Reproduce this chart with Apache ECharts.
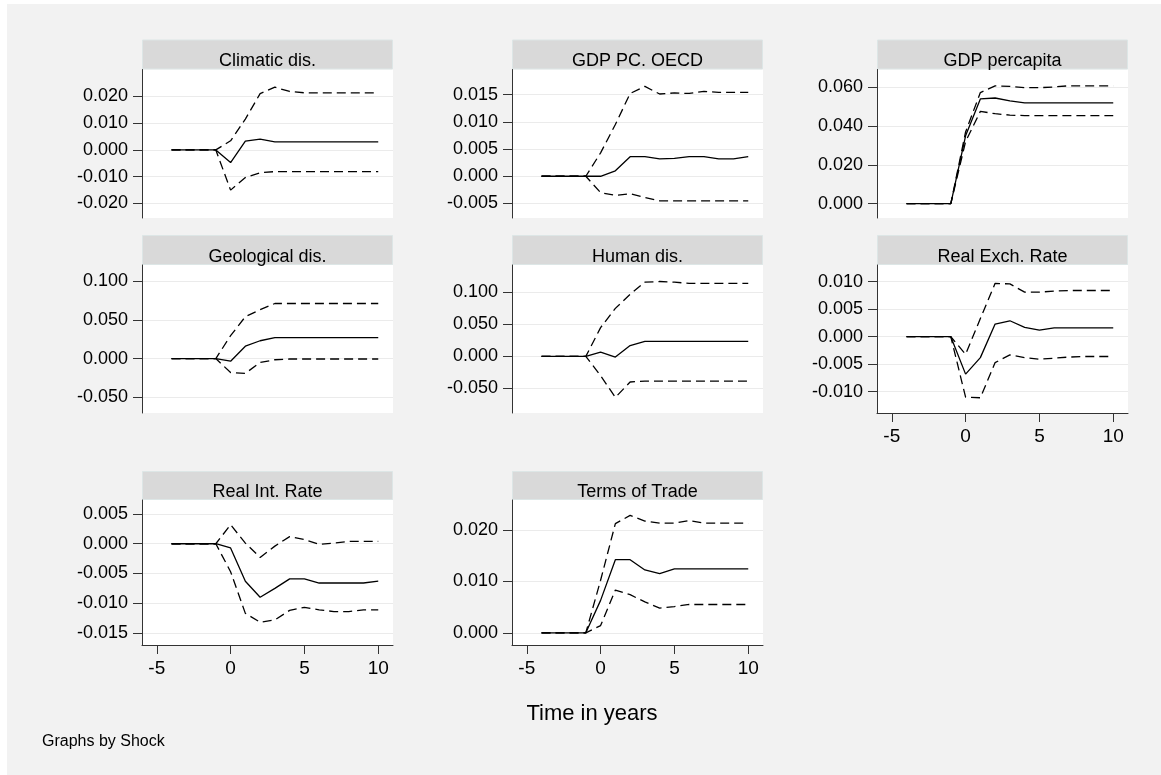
<!DOCTYPE html>
<html><head><meta charset="utf-8">
<script src="https://cdn.jsdelivr.net/npm/echarts@6/dist/echarts.min.js"></script>
<style>html,body{margin:0;padding:0;background:#fff}#c{width:1161px;height:775px}</style>
</head><body><div id="c"></div>
<script>
// ---------- data ----------
const years = [-4,-3,-2,-1,0,1,2,3,4,5,6,7,8,9,10];
const xTicks = [-5,0,5,10];
const panelTitles = ['Climatic dis.','GDP PC. OECD','GDP percapita','Geological dis.','Human dis.','Real Exch. Rate','Real Int. Rate','Terms of Trade'];

const climIrf   = [0,0,0,0,-0.0047,0.0033,0.0040,0.0030,0.0030,0.0030,0.0030,0.0030,0.0030,0.0030,0.0030];
const climUpper = [0,0,0,0,0.0034,0.0115,0.0210,0.0234,0.0218,0.0213,0.0213,0.0213,0.0213,0.0213,0.0213];
const climLower = [0,0,0,0,-0.0150,-0.0103,-0.0085,-0.0081,-0.0081,-0.0081,-0.0081,-0.0081,-0.0081,-0.0081,-0.0081];
const climTicks = [-0.02,-0.01,0,0.01,0.02];

const oecdIrf   = [0,0,0,0,0,0.0010,0.0036,0.0036,0.0032,0.0033,0.0036,0.0036,0.0032,0.0032,0.0036];
const oecdUpper = [0,0,0,0,0.0043,0.0095,0.0152,0.0165,0.0151,0.0153,0.0152,0.0156,0.0154,0.0154,0.0154];
const oecdLower = [0,0,0,0,-0.0030,-0.0035,-0.0032,-0.0039,-0.0045,-0.0045,-0.0045,-0.0045,-0.0045,-0.0045,-0.0045];
const oecdTicks = [-0.005,0,0.005,0.01,0.015];

const gdpIrf   = [0,0,0,0,0.035,0.054,0.0545,0.053,0.052,0.052,0.052,0.052,0.052,0.052,0.052];
const gdpUpper = [0,0,0,0,0.037,0.0573,0.0608,0.0605,0.0598,0.0598,0.0602,0.0608,0.0608,0.0608,0.0608];
const gdpLower = [0,0,0,0,0.032,0.0476,0.0464,0.0457,0.0454,0.0454,0.0454,0.0454,0.0454,0.0454,0.0454];
const gdpTicks = [0,0.02,0.04,0.06];

const geoIrf   = [0,0,0,0,-0.0034,0.016,0.023,0.027,0.027,0.027,0.027,0.027,0.027,0.027,0.027];
const geoUpper = [0,0,0,0,0.0295,0.054,0.063,0.071,0.071,0.071,0.071,0.071,0.071,0.071,0.071];
const geoLower = [0,0,0,0,-0.018,-0.019,-0.005,-0.0015,-0.0005,-0.0005,-0.0005,-0.0005,-0.0005,-0.0005,-0.0005];
const geoTicks = [-0.05,0,0.05,0.1];

const humIrf   = [0,0,0,0,0.0067,-0.001,0.017,0.0235,0.0235,0.0235,0.0235,0.0235,0.0235,0.0235,0.0235];
const humUpper = [0,0,0,0,0.045,0.075,0.097,0.116,0.117,0.116,0.114,0.114,0.114,0.114,0.114];
const humLower = [0,0,0,0,-0.030,-0.064,-0.040,-0.0385,-0.0385,-0.0385,-0.0385,-0.0385,-0.0385,-0.0385,-0.0385];
const humTicks = [-0.05,0,0.05,0.1];

const rerIrf   = [0,0,0,0,-0.0068,-0.0038,0.0023,0.0029,0.0017,0.0012,0.0016,0.0016,0.0016,0.0016,0.0016];
const rerUpper = [0,0,0,0,-0.0032,0.0033,0.0097,0.0096,0.0081,0.0081,0.0083,0.0084,0.0084,0.0084,0.0084];
const rerLower = [0,0,0,0,-0.0110,-0.0111,-0.0047,-0.0033,-0.0038,-0.0041,-0.0039,-0.0037,-0.0036,-0.0036,-0.0036];
const rerTicks = [-0.01,-0.005,0,0.005,0.01];

const rirIrf   = [0,0,0,0,-0.0007,-0.0063,-0.0090,-0.0075,-0.0059,-0.0059,-0.0066,-0.0066,-0.0066,-0.0066,-0.0063];
const rirUpper = [0,0,0,0,0.0032,0.0001,-0.0023,-0.0004,0.0012,0.0007,-0.0001,0.0001,0.0004,0.0004,0.0004];
const rirLower = [0,0,0,0,-0.0047,-0.0117,-0.0132,-0.0128,-0.0112,-0.0107,-0.0111,-0.0114,-0.0114,-0.0111,-0.0111];
const rirTicks = [-0.015,-0.01,-0.005,0,0.005];

const totIrf   = [0,0,0,0,0.0063,0.0142,0.0142,0.0122,0.0115,0.0124,0.0124,0.0124,0.0124,0.0124,0.0124];
const totUpper = [0,0,0,0,0.0102,0.0212,0.0228,0.0217,0.0213,0.0213,0.0218,0.0213,0.0213,0.0213,0.0213];
const totLower = [0,0,0,0,0.0014,0.0083,0.0074,0.0060,0.0048,0.0051,0.0055,0.0055,0.0055,0.0055,0.0055];
const totTicks = [0,0.01,0.02];

// ---------- layout ----------
const panels = [
  {irf:climIrf, up:climUpper, lo:climLower, ticks:climTicks, min:-0.0254, max:0.0300},
  {irf:oecdIrf, up:oecdUpper, lo:oecdLower, ticks:oecdTicks, min:-0.00766, max:0.0196},
  {irf:gdpIrf,  up:gdpUpper,  lo:gdpLower,  ticks:gdpTicks,  min:-0.0074, max:0.0692},
  {irf:geoIrf,  up:geoUpper,  lo:geoLower,  ticks:geoTicks,  min:-0.0701, max:0.1206},
  {irf:humIrf,  up:humUpper,  lo:humLower,  ticks:humTicks,  min:-0.0884, max:0.1428},
  {irf:rerIrf,  up:rerUpper,  lo:rerLower,  ticks:rerTicks,  min:-0.01387, max:0.01304},
  {irf:rirIrf,  up:rirUpper,  lo:rirLower,  ticks:rirTicks,  min:-0.01702, max:0.00735},
  {irf:totIrf,  up:totUpper,  lo:totLower,  ticks:totTicks,  min:-0.00237, max:0.02579}
];
const colLeft = [142, 512, 877];
const colW = 251;
const rows = [{hTop:39.5, top:69.5, h:148.5},{hTop:235, top:265, h:148},{hTop:471, top:500, h:145}];
const xAxisShown = [false,false,false,false,false,true,true,true];
const FONT = '"Liberation Sans", Arial, sans-serif';

const grids = [], xAxes = [], yAxes = [], series = [], graphics = [];
graphics.push({type:'rect', shape:{x:7, y:4, width:1154, height:771}, style:{fill:'#f2f2f2'}, z:-10, silent:true});

panels.forEach((p, i) => {
  const r = rows[Math.floor(i/3)], left = colLeft[i%3];
  grids.push({left:left, top:r.top, width:colW, height:r.h, show:true, backgroundColor:'#ffffff', borderWidth:0, containLabel:false});
  graphics.push({type:'rect', shape:{x:left+0.5, y:r.hTop+0.5, width:colW-1, height:r.top-r.hTop-1},
    style:{fill:'#d9d9d9', stroke:'#dde6e6', lineWidth:1}, silent:true});
  graphics.push({type:'text', x:left+colW/2, y:r.top-8,
    style:{text:panelTitles[i], fill:'#000', font:'18px '+FONT, align:'center', verticalAlign:'middle'}, silent:true});
  const showX = xAxisShown[i];
  xAxes.push({type:'value', gridIndex:i, min:-6, max:11, show:showX,
    axisLine:{show:true, onZero:false, lineStyle:{color:'#333', width:1}},
    axisTick:{show:true, customValues:xTicks, length:9, lineStyle:{color:'#333'}},
    axisLabel:{show:true, customValues:xTicks, fontSize:19, fontFamily:FONT, color:'#000', margin:14},
    splitLine:{show:false}});
  yAxes.push({type:'value', gridIndex:i, min:p.min, max:p.max,
    axisLine:{show:true, onZero:false, lineStyle:{color:'#333', width:1}},
    axisTick:{show:true, customValues:p.ticks, length:9, lineStyle:{color:'#333'}},
    axisLabel:{show:true, customValues:p.ticks, fontSize:18, fontFamily:FONT, color:'#000', margin:14,
      formatter:(v)=> (Math.abs(v)<1e-12?0:v).toFixed(3)},
    splitLine:{show:true, lineStyle:{color:'#ebebeb', width:1}}});
  const mk = (arr, dashed) => ({type:'line', xAxisIndex:i, yAxisIndex:i, symbol:'none', silent:true,
    data: years.map((x,k)=>[x, arr[k]]),
    lineStyle:{color:'#000', width:1.3, type: dashed ? [9,5] : 'solid'}});
  series.push(mk(p.up, true), mk(p.irf, false), mk(p.lo, true));
});

graphics.push({type:'text', x:592, y:714, style:{text:'Time in years', fill:'#000', font:'22px '+FONT, align:'center', verticalAlign:'middle'}, silent:true});
graphics.push({type:'text', x:42, y:742, style:{text:'Graphs by Shock', fill:'#000', font:'16px '+FONT, align:'left', verticalAlign:'middle'}, silent:true});

const chart = echarts.init(document.getElementById('c'), null, {renderer:'canvas'});
chart.setOption({animation:false, backgroundColor:'#ffffff', grid:grids, xAxis:xAxes, yAxis:yAxes, series:series, graphic:graphics});
</script></body></html>
